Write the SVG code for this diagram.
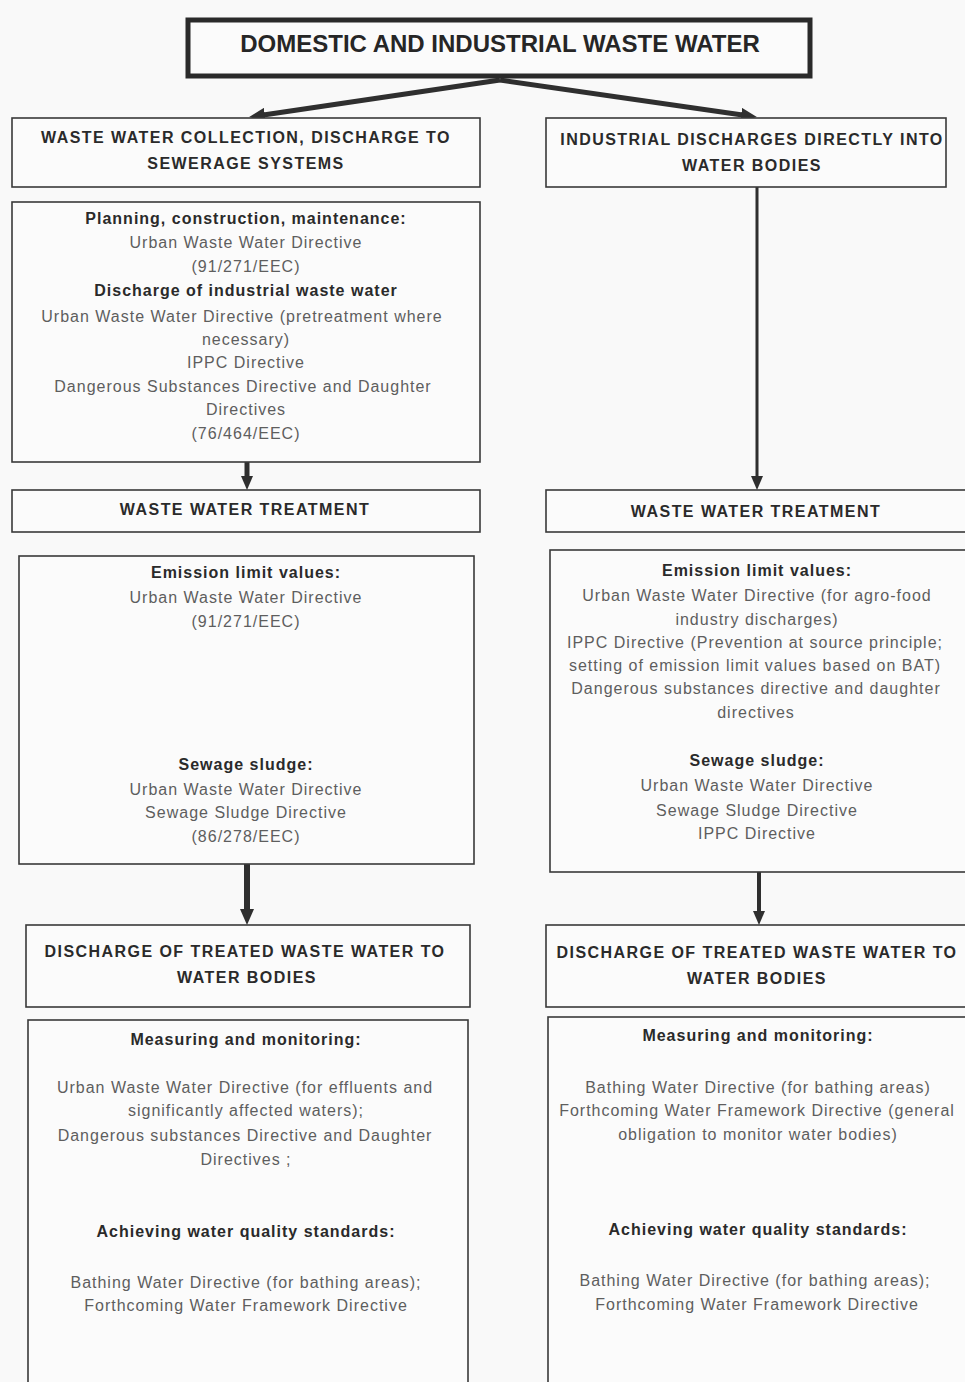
<svg xmlns="http://www.w3.org/2000/svg" width="965" height="1382" viewBox="0 0 965 1382">
<style>
.bg{fill:#f9f9f9}
.box{fill:#fbfbfb;stroke:#3a3a3a;stroke-width:1.6}
.top{fill:#fbfbfb;stroke:#2a2a2a;stroke-width:5}
.ttl{font-family:"Liberation Sans",Arial,sans-serif;font-size:24px;font-weight:bold;fill:#262626;text-anchor:middle}
.cap{font-family:"Liberation Sans",Arial,sans-serif;font-size:16px;font-weight:bold;fill:#2a2a2a;text-anchor:middle;letter-spacing:1.45px}
.h{font-family:"Liberation Sans",Arial,sans-serif;font-size:16px;font-weight:bold;fill:#2a2a2a;text-anchor:middle;letter-spacing:1px}
.b{font-family:"Liberation Sans",Arial,sans-serif;font-size:16px;fill:#5e5e5e;text-anchor:middle;letter-spacing:1px}
.ln{stroke:#2f2f2f;fill:none}
</style>
<defs>
<marker id="ah" viewBox="0 0 14 12" refX="5" refY="6" markerWidth="14" markerHeight="12" markerUnits="userSpaceOnUse" orient="auto">
<path d="M0,0 L14,6 L0,12 z" fill="#2f2f2f"/>
</marker>
<marker id="ahd" viewBox="0 0 16 14" refX="5" refY="7" markerWidth="16" markerHeight="14" markerUnits="userSpaceOnUse" orient="auto">
<path d="M0,0 L16,7 L0,14 z" fill="#2f2f2f"/>
</marker>
</defs>
<rect class="bg" x="0" y="0" width="965" height="1382"/>

<g id="connectors">
<line class="ln" stroke-width="5" x1="500" y1="80" x2="260" y2="115.5" marker-end="url(#ahd)"/>
<line class="ln" stroke-width="5" x1="500" y1="80" x2="746" y2="115.5" marker-end="url(#ahd)"/>
<line class="ln" stroke-width="3" x1="757" y1="187" x2="757" y2="481" marker-end="url(#ah)"/>
<line class="ln" stroke-width="5" x1="247" y1="462" x2="247" y2="481" marker-end="url(#ah)"/>
<line class="ln" stroke-width="6" x1="247" y1="864" x2="247" y2="914" marker-end="url(#ahd)"/>
<line class="ln" stroke-width="4" x1="759" y1="872" x2="759" y2="916" marker-end="url(#ah)"/>
</g>

<g id="n-top">
<rect class="top" x="188" y="20" width="622" height="56"/>
<text class="ttl" x="500" y="52">DOMESTIC AND INDUSTRIAL WASTE WATER</text>
</g>

<g id="n-collection">
<rect class="box" x="12" y="118" width="468" height="69"/>
<text class="cap" x="246" y="143">WASTE WATER COLLECTION, DISCHARGE TO</text>
<text class="cap" x="246" y="169">SEWERAGE SYSTEMS</text>
</g>

<g id="n-industrial">
<rect class="box" x="546" y="118" width="400" height="69"/>
<text class="cap" x="752" y="145">INDUSTRIAL DISCHARGES DIRECTLY INTO</text>
<text class="cap" x="752" y="171">WATER BODIES</text>
</g>

<g id="n-planning">
<rect class="box" x="12" y="202" width="468" height="260"/>
<text class="h" x="246" y="224">Planning, construction, maintenance:</text>
<text class="b" x="246" y="248">Urban Waste Water Directive</text>
<text class="b" x="246" y="272">(91/271/EEC)</text>
<text class="h" x="246" y="296">Discharge of industrial waste water</text>
<text class="b" x="242" y="322">Urban Waste Water Directive (pretreatment where</text>
<text class="b" x="246" y="345">necessary)</text>
<text class="b" x="246" y="368">IPPC Directive</text>
<text class="b" x="243" y="392">Dangerous Substances Directive and Daughter</text>
<text class="b" x="246" y="415">Directives</text>
<text class="b" x="246" y="439">(76/464/EEC)</text>
</g>

<g id="n-treat-left">
<rect class="box" x="12" y="490" width="468" height="42"/>
<text class="cap" x="245" y="515">WASTE WATER TREATMENT</text>
</g>

<g id="n-treat-right">
<rect class="box" x="546" y="490" width="422" height="42"/>
<text class="cap" x="756" y="517">WASTE WATER TREATMENT</text>
</g>

<g id="n-emission-left">
<rect class="box" x="19" y="556" width="455" height="308"/>
<text class="h" x="246" y="578">Emission limit values:</text>
<text class="b" x="246" y="603">Urban Waste Water Directive</text>
<text class="b" x="246" y="627">(91/271/EEC)</text>
<text class="h" x="246" y="770">Sewage sludge:</text>
<text class="b" x="246" y="795">Urban Waste Water Directive</text>
<text class="b" x="246" y="818">Sewage Sludge Directive</text>
<text class="b" x="246" y="842">(86/278/EEC)</text>
</g>

<g id="n-emission-right">
<rect class="box" x="550" y="550" width="418" height="322"/>
<text class="h" x="757" y="576">Emission limit values:</text>
<text class="b" x="757" y="601">Urban Waste Water Directive (for agro-food</text>
<text class="b" x="757" y="625">industry discharges)</text>
<text class="b" x="755" y="648">IPPC Directive (Prevention at source principle;</text>
<text class="b" x="755" y="671">setting of emission limit values based on BAT)</text>
<text class="b" x="756" y="694">Dangerous substances directive and daughter</text>
<text class="b" x="756" y="718">directives</text>
<text class="h" x="757" y="766">Sewage sludge:</text>
<text class="b" x="757" y="791">Urban Waste Water Directive</text>
<text class="b" x="757" y="816">Sewage Sludge Directive</text>
<text class="b" x="757" y="839">IPPC Directive</text>
</g>

<g id="n-discharge-left">
<rect class="box" x="26" y="925" width="444" height="82"/>
<text class="cap" x="245" y="957">DISCHARGE OF TREATED WASTE WATER TO</text>
<text class="cap" x="247" y="983">WATER BODIES</text>
</g>

<g id="n-discharge-right">
<rect class="box" x="546" y="925" width="422" height="82"/>
<text class="cap" x="757" y="958">DISCHARGE OF TREATED WASTE WATER TO</text>
<text class="cap" x="757" y="984">WATER BODIES</text>
</g>

<g id="n-monitor-left">
<rect class="box" x="28" y="1020" width="440" height="370"/>
<text class="h" x="246" y="1045">Measuring and monitoring:</text>
<text class="b" x="245" y="1093">Urban Waste Water Directive (for effluents and</text>
<text class="b" x="246" y="1116">significantly affected waters);</text>
<text class="b" x="245" y="1141">Dangerous substances Directive and Daughter</text>
<text class="b" x="246" y="1165">Directives ;</text>
<text class="h" x="246" y="1237">Achieving water quality standards:</text>
<text class="b" x="246" y="1288">Bathing Water Directive (for bathing areas);</text>
<text class="b" x="246" y="1311">Forthcoming Water Framework Directive</text>
</g>

<g id="n-monitor-right">
<rect class="box" x="548" y="1017" width="420" height="373"/>
<text class="h" x="758" y="1041">Measuring and monitoring:</text>
<text class="b" x="758" y="1093">Bathing Water Directive (for bathing areas)</text>
<text class="b" x="757" y="1116">Forthcoming Water Framework Directive (general</text>
<text class="b" x="758" y="1140">obligation to monitor water bodies)</text>
<text class="h" x="758" y="1235">Achieving water quality standards:</text>
<text class="b" x="755" y="1286">Bathing Water Directive (for bathing areas);</text>
<text class="b" x="757" y="1310">Forthcoming Water Framework Directive</text>
</g>
</svg>
